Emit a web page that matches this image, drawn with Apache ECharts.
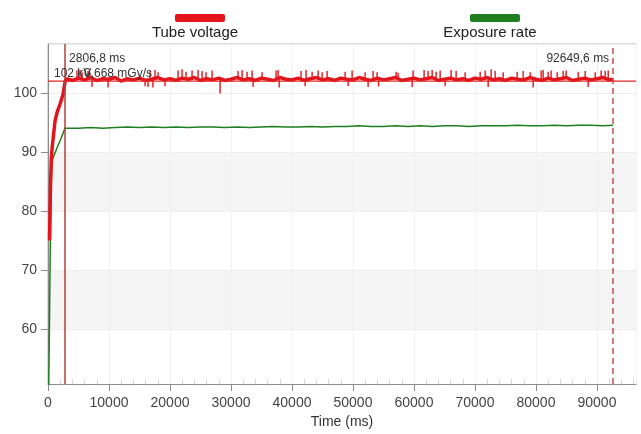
<!DOCTYPE html>
<html>
<head>
<meta charset="utf-8">
<script src="https://cdn.jsdelivr.net/npm/echarts@6/dist/echarts.min.js"></script>
<style>
html,body{margin:0;padding:0;background:#fff;}
#chart{width:641px;height:434px;}
</style>
</head>
<body>
<div id="chart"></div>
<script>
// ---- data ----
const seriesNames = ['Tube voltage', 'Exposure rate'];
const xTickInterval = 10000;
const xMax = 96400;
const yMin = 50.6;
const yMax = 108.4;

// Tube voltage [time ms, kV]
const tubeVoltage = [
  [250,75],[400,84],[550,89],[700,91],[1150,95.3],[1500,96.8],[1970,98.2],[2460,99.8],[2800,102.0],
  [3000,102.5],[4000,102.2],[5000,102.6],[6000,102.3],[7000,102.7],[8000,102.2],[9000,102.5],[10000,102.4],
  [11000,102.7],[12000,102.1],[13000,102.5],[14000,102.3],[15000,102.6],[16000,102.2],[17000,102.4],[18000,102.7],
  [19000,102.3],[20000,102.5],[21000,102.2],[22000,102.6],[23000,102.4],[24000,102.7],[25000,102.2],[26000,102.5],
  [27000,102.3],[28000,102.6],[29000,102.2],[30000,102.4],[31000,102.7],[32000,102.3],[33000,102.5],[34000,102.2],
  [35000,102.6],[36000,102.4],[37000,102.2],[38000,102.7],[39000,102.4],[40000,102.3],[41000,102.6],[42000,102.2],
  [43000,102.5],[44000,102.7],[45000,102.3],[46000,102.5],[47000,102.2],[48000,102.6],[49000,102.4],[50000,102.3],
  [51000,102.7],[52000,102.4],[53000,102.2],[54000,102.6],[55000,102.3],[56000,102.5],[57000,102.7],[58000,102.2],
  [59000,102.4],[60000,102.6],[61000,102.3],[62000,102.5],[63000,102.7],[64000,102.2],[65000,102.4],[66000,102.6],
  [67000,102.3],[68000,102.5],[69000,102.2],[70000,102.6],[71000,102.4],[72000,102.7],[73000,102.3],[74000,102.5],
  [75000,102.2],[76000,102.6],[77000,102.4],[78000,102.3],[79000,102.7],[80000,102.4],[81000,102.2],[82000,102.6],
  [83000,102.3],[84000,102.5],[85000,102.7],[86000,102.2],[87000,102.4],[88000,102.6],[89000,102.3],[90000,102.5],
  [91000,102.7],[92000,102.3],[92649,102.4]
];

// Tube voltage spikes [time ms, low kV, high kV]
const voltageSpikes = [
  [4750,102.4,103.9],[5250,102.4,104.0],[5580,102.4,103.6],[6560,102.4,103.8],[6890,102.4,103.5],
  [7220,101.1,102.4],[9840,101.0,102.4],[15910,101.2,102.4],[16400,101.1,102.4],[16730,102.4,103.9],
  [17200,101.0,102.4],[17550,102.4,104.0],[18040,102.4,103.6],[19190,101.2,102.4],
  [21320,102.4,103.9],[21980,102.4,104.1],[22630,102.4,103.7],[23620,102.4,103.9],[24600,102.4,104.0],
  [25260,102.4,103.8],[25910,102.4,103.6],[26900,102.4,103.9],[28210,100.0,102.4],
  [31160,102.4,103.8],[31820,102.4,104.0],[32640,102.4,103.7],[33460,102.4,103.9],[33620,101.1,102.4],
  [35100,102.4,103.6],[37390,102.4,103.9],[37720,102.4,104.0],[37900,101.0,102.4],
  [41490,102.4,103.8],[42150,101.2,102.4],[42310,102.4,104.0],[43300,102.4,103.7],[44280,102.4,103.9],
  [44940,102.4,103.6],[45760,102.4,103.8],[48710,102.4,103.7],[49200,101.2,102.4],[49860,102.4,103.9],
  [51990,102.4,103.6],[52480,101.1,102.4],[53300,102.4,103.8],[53960,102.4,103.6],[54200,101.2,102.4],
  [57070,102.4,103.7],[57400,102.4,103.5],[59700,101.1,102.4],[59860,102.4,103.9],
  [61660,102.4,104.0],[62320,102.4,103.8],[62980,102.4,104.0],[63630,102.4,103.7],[64290,102.4,103.9],
  [65110,101.2,102.4],[66090,102.4,104.0],[66910,102.4,103.8],[68390,102.4,103.6],
  [70850,102.4,103.7],[71670,102.4,103.9],[72160,101.1,102.4],[72650,102.4,104.1],[73310,102.4,103.8],
  [74620,102.4,103.6],[76920,102.4,103.7],[77900,102.4,103.8],[79050,102.4,103.6],[79540,101.0,102.4],
  [80850,102.4,103.9],[81180,102.4,104.0],[82000,102.4,103.7],[82490,102.4,103.9],[83480,102.4,103.6],
  [84460,102.4,103.8],[84950,102.4,103.9],[86920,102.4,103.7],[88070,102.4,103.8],[88560,101.1,102.4],
  [89710,102.4,103.6],[90690,102.4,103.9],[91350,102.4,103.8],[91840,102.4,103.9]
];

// Exposure rate [time ms, value]
const exposureRate = [
  [120,50],[250,62],[350,72],[450,80],[550,86],[650,88.6],[900,89.2],[1500,90.8],[2200,92.5],[2800,94.1],
  [3000,94.2],[5000,94.1],[7000,94.2],[9000,94.1],[11000,94.2],[13000,94.3],[15000,94.2],[17000,94.3],
  [19000,94.2],[21000,94.3],[23000,94.2],[25000,94.3],[27000,94.3],[29000,94.2],[31000,94.3],[33000,94.2],
  [35000,94.3],[37000,94.4],[39000,94.3],[41000,94.3],[43000,94.4],[45000,94.3],[47000,94.4],[49000,94.4],
  [51000,94.5],[53000,94.4],[55000,94.4],[57000,94.5],[59000,94.4],[61000,94.5],[63000,94.4],[65000,94.5],
  [67000,94.5],[69000,94.4],[71000,94.5],[73000,94.5],[75000,94.5],[77000,94.6],[79000,94.5],[81000,94.5],
  [83000,94.6],[85000,94.5],[87000,94.6],[89000,94.6],[91000,94.5],[92649,94.6]
];

// cursors and readouts
const cursorTimes = [2806.8, 92649.6];
const cursorLabels = ['2806,8 ms', '92649,6 ms'];
const crosshairValue = 102.1;
const readoutLabels = ['102 kV', '0,668 mGy/s'];

// ---- chart ----
const RED = '#e3141b';
const GREEN = '#1f7f1f';
const FONT = 'Liberation Sans, Arial, sans-serif';

const chart = echarts.init(document.getElementById('chart'), null, {renderer: 'canvas'});

const option = {
  animation: false,
  backgroundColor: '#ffffff',
  textStyle: {fontFamily: FONT},
  grid: {left: 48, right: 5, top: 44, bottom: 46, show: true, borderColor: '#b4b4b4', borderWidth: 1, containLabel: false},
  legend: [
    {data: [seriesNames[0]], left: 170, top: 9, itemWidth: 50, itemHeight: 8, icon: 'roundRect', formatter: () => '', selectedMode: false},
    {data: [seriesNames[1]], left: 465, top: 9, itemWidth: 50, itemHeight: 8, icon: 'roundRect', formatter: () => '', selectedMode: false}
  ],
  xAxis: [
    {
      type: 'value', min: 0, max: xMax, interval: xTickInterval,
      name: 'Time (ms)', nameLocation: 'middle', nameGap: 29,
      nameTextStyle: {fontSize: 14, color: '#333', fontFamily: FONT},
      axisLine: {show: true, lineStyle: {color: '#8c8c8c'}},
      axisTick: {show: true, length: 7, lineStyle: {color: '#8c8c8c'}},
      axisLabel: {fontSize: 14, color: '#444', margin: 12, showMaxLabel: false, fontFamily: FONT,
        formatter: v => String(v)},
      splitLine: {show: true, lineStyle: {color: '#f0f0f0'}}
    },
    {
      type: 'value', min: 0, max: xMax, interval: xTickInterval, position: 'bottom',
      axisLine: {show: false},
      axisTick: {show: false, inside: true},
      minorTick: {show: true, splitNumber: 5, length: 5, lineStyle: {color: '#d8d8d8'}},
      axisLabel: {show: false},
      splitLine: {show: false}
    }
  ],
  yAxis: {
    type: 'value', min: yMin, max: yMax, splitNumber: 5,
    axisLine: {show: true, lineStyle: {color: '#8c8c8c'}},
    axisTick: {show: true, length: 7, lineStyle: {color: '#8c8c8c'}},
    axisLabel: {fontSize: 14, color: '#444', margin: 11, showMinLabel: false, showMaxLabel: false, fontFamily: FONT},
    splitLine: {show: true, lineStyle: {color: '#ededed'}},
    splitArea: {show: true, areaStyle: {color: ['#ffffff', '#f5f5f5', '#ffffff', '#f5f5f5', '#ffffff', '#ffffff']}}
  },
  series: [
    {
      name: seriesNames[0], type: 'line', data: tubeVoltage, showSymbol: false, symbol: 'none',
      color: RED, lineStyle: {color: RED, width: 3.5}, z: 3,
      markLine: {
        silent: true, symbol: 'none', animation: false,
        label: {show: false},
        emphasis: {disabled: true},
        data: [
          {xAxis: cursorTimes[0], lineStyle: {color: '#b5413a', width: 1.5, type: 'solid'}},
          {xAxis: cursorTimes[1], lineStyle: {color: '#c2504a', width: 1.5, type: [6, 4]}}
        ]
      }
    },
    {
      name: seriesNames[0] + ' spikes', type: 'custom', data: voltageSpikes, z: 3, silent: true,
      encode: {x: 0, y: [1, 2]},
      renderItem: function (params, api) {
        const p1 = api.coord([api.value(0), api.value(1)]);
        const p2 = api.coord([api.value(0), api.value(2)]);
        return {type: 'line', shape: {x1: p1[0], y1: p1[1], x2: p2[0], y2: p2[1]}, style: {stroke: RED, lineWidth: 1.4}};
      }
    },
    {
      name: seriesNames[1], type: 'line', data: exposureRate, showSymbol: false, symbol: 'none',
      color: GREEN, lineStyle: {color: GREEN, width: 1.5}, z: 2
    }
  ]
};
chart.setOption(option);

// place texts / crosshair anchored to the data positions via the axes
const toPx = v => chart.convertToPixel({xAxisIndex: 0, yAxisIndex: 0}, v);
const c0 = toPx([cursorTimes[0], yMax]);
const c1 = toPx([cursorTimes[1], yMax]);
const hL = toPx([0, crosshairValue]);
const hR = toPx([xMax, crosshairValue]);
const textStyle = {fill: '#333', fontSize: 12, fontFamily: FONT};
chart.setOption({
  graphic: [
    {type: 'line', z: 5, silent: true, shape: {x1: hL[0], y1: hL[1], x2: hR[0], y2: hR[1]}, style: {stroke: '#e02424', lineWidth: 1.2}},
    {type: 'text', x: 195, y: 33, style: {text: seriesNames[0], fill: '#222', fontSize: 15, fontFamily: FONT, align: 'center', verticalAlign: 'middle'}},
    {type: 'text', x: 490, y: 33, style: {text: seriesNames[1], fill: '#222', fontSize: 15, fontFamily: FONT, align: 'center', verticalAlign: 'middle'}},
    {type: 'text', x: c0[0] + 4, y: c0[1] + 15, z: 10, style: Object.assign({text: cursorLabels[0], align: 'left', verticalAlign: 'middle'}, textStyle)},
    {type: 'text', x: c1[0] - 4, y: c1[1] + 15, z: 10, style: Object.assign({text: cursorLabels[1], align: 'right', verticalAlign: 'middle'}, textStyle)},
    {type: 'text', x: hL[0] + 6, y: hL[1] - 7, z: 10, style: Object.assign({text: readoutLabels[0], align: 'left', verticalAlign: 'middle'}, textStyle)},
    {type: 'text', x: hL[0] + 36, y: hL[1] - 7, z: 10, style: Object.assign({text: readoutLabels[1], align: 'left', verticalAlign: 'middle'}, textStyle)}
  ]
});
</script>
</body>
</html>
